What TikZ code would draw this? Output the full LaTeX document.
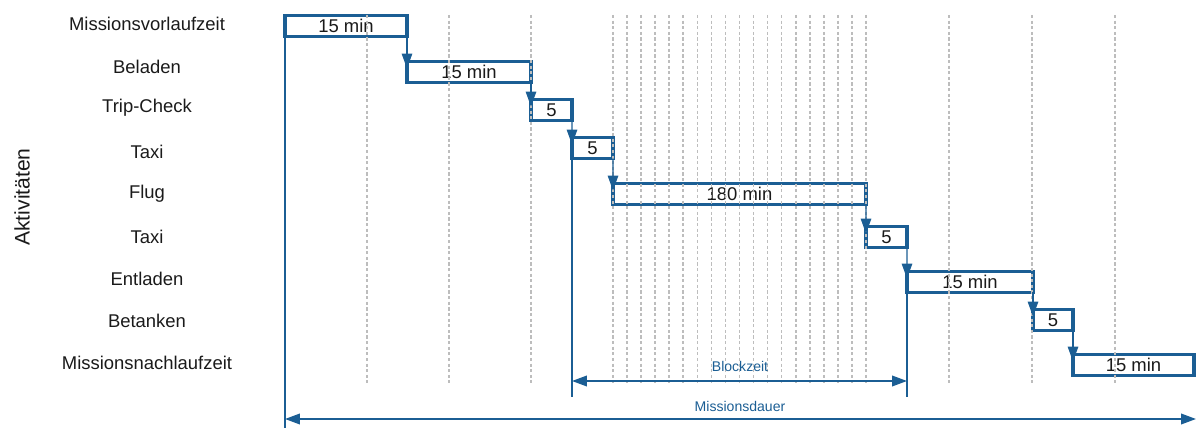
\documentclass[tikz,border=0pt]{standalone}
\usepackage{fontspec}
\setmainfont{Liberation Sans}
\usetikzlibrary{arrows.meta,calc}
\definecolor{PlanBlue}{HTML}{1B5E94}
\definecolor{PlanGrid}{HTML}{BDBDBD}
\definecolor{PlanInk}{HTML}{1A1A1A}
\tikzset{
  every node/.style={font=\fontsize{10.5}{12}\selectfont, text=PlanInk},
  bar/.style={draw=PlanBlue, line width=1.9pt, fill=white, minimum height=0.42cm, inner sep=0pt, outer sep=0pt},
  link/.style={-{Triangle[length=8.5pt,width=6pt]}, draw=PlanBlue, line width=0.6pt, shorten >=-4pt},
  span/.style={{Triangle[length=8.5pt,width=6pt]}-{Triangle[length=8.5pt,width=6pt]}, draw=PlanBlue, line width=1.1pt},
  marker/.style={draw=PlanBlue, line width=1.1pt},
  gridline/.style={draw=PlanGrid, line width=0.9pt, dash pattern=on 1.8pt off 1.4pt},
  small/.style={font=\fontsize{8}{10}\selectfont, text=PlanBlue},
}

\begin{document}
\begin{tikzpicture}[x=0.02cm, y=-0.02cm]
  \useasboundingbox (0,0) rectangle (1196,428);
  % Axis title
  \node[rotate=90, font=\fontsize{12}{14}\selectfont] (axis) at (22,197) {Aktivitäten};
  % Activity names
  \foreach \i/\y/\name in {1/24/Missionsvorlaufzeit, 2/67/Beladen, 3/108/Trip-Check,
      4/152/Taxi, 5/194/Flug, 6/237/Taxi, 7/279/Entladen, 8/321/Betanken,
      9/363/Missionsnachlaufzeit} {
    \node (act\i) at (147,\y) {\name};
  }
  % Bars
  \foreach \i/\s/\e/\y/\lbl in {1/285/407/26/15 min, 2/407/531/72/15 min, 3/531/572/110/5,
      4/572/613/148/5, 5/613/866/194/180 min, 6/866/907/237/5, 7/907/1033/282/15 min,
      8/1033/1073/320/5, 9/1073/1194/365/15 min} {
    \node[bar, minimum width={(\e-\s)*0.02cm}] (b\i) at ({(\s+\e)/2},\y) {\lbl};
  }
  % Grid
  \foreach \x in {285,367,449,531,613,866,949,1032,1115} {
    \draw[gridline] (\x,15) -- (\x,383);
  }
  \foreach \j in {1,...,17} {
    \draw[gridline] ({613+\j*253/18},15) -- ({613+\j*253/18},383);
  }
  % Links between activities
  \foreach \a/\b in {1/2,2/3,3/4,4/5,5/6,6/7,7/8,8/9} {
    \draw[link] (b\a.south east) -- (b\b.north west);
  }
  % Block time and mission duration
  \coordinate (blockL) at (572,397);
  \coordinate (blockR) at (907,397);
  \coordinate (dauerL) at (285,428);
  \coordinate (bzL) at (572,381);
  \coordinate (bzR) at (907,381);
  \coordinate (mdL) at (285,419);
  \coordinate (mdR) at (1196,419);
  \draw[marker] (b4.south west) -- (blockL);
  \draw[marker] (b7.south west) -- (blockR);
  \draw[marker] (b1.north west) -- (dauerL);
  \draw[span] (bzL) -- (bzR);
  \draw[span] (mdL) -- (mdR);
  \node[small] (blocklbl) at (740,366) {Blockzeit};
  \node[small] (dauerlbl) at (740,406) {Missionsdauer};
\end{tikzpicture}
\end{document}
